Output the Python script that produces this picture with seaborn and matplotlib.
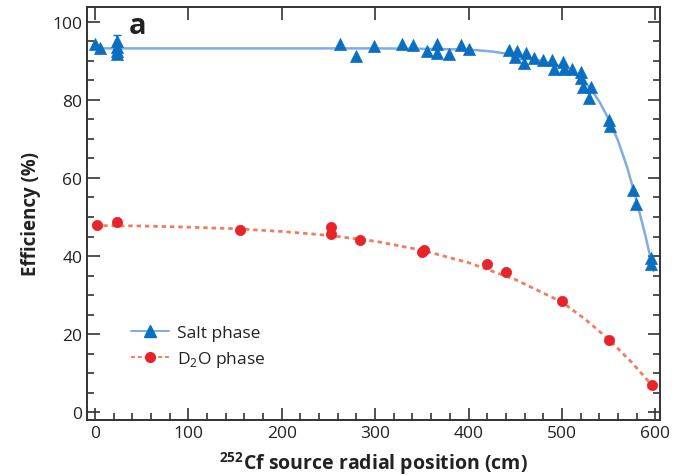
import numpy as np
import pandas as pd
import matplotlib
matplotlib.use("Agg")
import matplotlib.pyplot as plt
import seaborn as sns
from matplotlib.ticker import MultipleLocator
from matplotlib.lines import Line2D

# ---- data ----
salt_x = [0, 5, 24, 24, 24, 24, 262, 279, 299, 329, 341, 355, 366, 366, 379, 392, 401,
          443, 450, 452, 459, 461, 470, 480, 489, 491, 501, 502, 511, 520, 520, 523, 529,
          531, 550, 551, 576, 579, 595, 595]
salt_y = [94.3, 93.3, 95.0, 93.5, 92.5, 91.8, 94.3, 91.3, 93.8, 94.2, 94.0, 92.6, 94.2,
          92.0, 91.8, 94.0, 93.0, 92.8, 90.9, 92.6, 89.4, 92.0, 90.8, 90.2, 90.2, 88.0,
          89.6, 88.0, 87.8, 87.2, 85.6, 83.2, 80.6, 83.2, 74.9, 73.3, 57.0, 53.4, 39.6, 38.0]
salt_err_x = [24]
salt_err_y = [93.8]
salt_err = [2.7]

d2o_x = [2, 24, 155, 253, 253, 284, 350, 352, 420, 440, 500, 550, 596]
d2o_y = [48.0, 48.8, 46.8, 47.4, 45.6, 44.2, 41.0, 41.6, 38.0, 35.9, 28.5, 18.6, 7.0]
d2o_err = [0.3, 0.9, 0.9, 0.7, 0.7, 0.5, 0.4, 0.4, 0.3, 0.3, 0.3, 0.3, 0.3]

# fitted curves
salt_fit_x = [0, 100, 200, 300, 350, 400, 425, 450, 475, 500, 520, 530, 540, 550, 560,
              570, 580, 590, 598]
salt_fit_y = [93.2, 93.2, 93.2, 93.2, 93.1, 92.9, 92.4, 91.5, 90.2, 88.5, 85.6, 83.1,
              79.6, 75.1, 69.6, 62.6, 54.1, 44.6, 36.2]
d2o_fit_x = [0, 50, 100, 150, 200, 250, 300, 350, 400, 450, 500, 525, 550, 575, 596]
d2o_fit_y = [47.8, 47.7, 47.4, 47.0, 46.3, 45.3, 43.8, 41.5, 38.3, 34.0, 28.2, 23.8, 18.7, 12.7, 7.0]

salt_color = "#0A6FC2"
salt_line = "#7FADE0"
d2o_color = "#E8232A"
d2o_line = "#F07D5E"

sns.set_theme(style="ticks")
plt.rcParams["font.family"] = ["Open Sans", "DejaVu Sans"]
plt.rcParams["mathtext.fontset"] = "custom"
plt.rcParams["mathtext.rm"] = "Open Sans"
plt.rcParams["mathtext.bf"] = "Open Sans:bold"

fig = plt.figure(figsize=(6.87, 4.77), dpi=100)
ax = fig.add_axes([87 / 687, 1 - 421 / 477, (660 - 87) / 687, (421 - 8) / 477])

salt_df = pd.DataFrame({"x": salt_x, "y": salt_y})
d2o_df = pd.DataFrame({"x": d2o_x, "y": d2o_y})
sfit = pd.DataFrame({"x": salt_fit_x, "y": salt_fit_y})
dfit = pd.DataFrame({"x": d2o_fit_x, "y": d2o_fit_y})

sns.lineplot(data=sfit, x="x", y="y", ax=ax, color=salt_line, lw=1.8, sort=False)
sns.lineplot(data=dfit, x="x", y="y", ax=ax, color=d2o_line, lw=2.0, sort=False,
             linestyle=(0, (1.6, 1.4)))

ax.errorbar(salt_err_x, salt_err_y, yerr=salt_err, fmt="none", ecolor=salt_color,
            elinewidth=1.2, capsize=3, zorder=3)
ax.errorbar(d2o_x, d2o_y, yerr=d2o_err, fmt="none", ecolor=d2o_color,
            elinewidth=1.2, capsize=2.5, zorder=3)

sns.scatterplot(data=salt_df, x="x", y="y", ax=ax, marker="^", s=75, color=salt_color,
                edgecolor=salt_color, linewidth=0.5, zorder=4)
sns.scatterplot(data=d2o_df, x="x", y="y", ax=ax, marker="o", s=55, color=d2o_color,
                edgecolor=d2o_color, linewidth=0.5, zorder=4)

ax.set_xlim(-8.5, 605)
ax.set_ylim(-2, 103.8)
ax.xaxis.set_major_locator(MultipleLocator(100))
ax.xaxis.set_minor_locator(MultipleLocator(20))
ax.yaxis.set_major_locator(MultipleLocator(20))
ax.yaxis.set_minor_locator(MultipleLocator(5))
ax.tick_params(which="both", direction="in", colors="#333333", labelcolor="#222222",
               width=1.2, labelsize=12.5)
ax.tick_params(which="major", length=9)
ax.tick_params(which="minor", length=5)
ax.tick_params(axis="y", which="both", right=True)
ax.tick_params(axis="x", which="major", top=True)
ax.tick_params(axis="x", which="minor", top=False)
for sp in ax.spines.values():
    sp.set_visible(True)
    sp.set_color("#333333")
    sp.set_linewidth(1.4)

ax.set_xlabel(r"$^{\mathbf{252}}$Cf source radial position (cm)", fontsize=14,
              fontweight="bold", color="#222222", labelpad=6)
ax.set_ylabel("Efficiency (%)", fontsize=13.5, fontweight="bold", color="#222222", labelpad=8)

ax.text(0.072, 0.955, "a", transform=ax.transAxes, fontsize=21, fontweight="bold",
        color="#222222", va="center", ha="left")

handles = [
    Line2D([], [], color=salt_line, lw=1.4, marker="^", markersize=8,
           markerfacecolor=salt_color, markeredgecolor=salt_color),
    Line2D([], [], color=d2o_line, lw=1.4, linestyle=(0, (2, 1.5)), marker="o",
           markersize=7, markerfacecolor=d2o_color, markeredgecolor=d2o_color),
]
ax.legend(handles, ["Salt phase", r"D$_2$O phase"], loc="lower left",
          bbox_to_anchor=(0.05, 0.085), frameon=False, fontsize=12.5, handlelength=2.2,
          handletextpad=0.45, labelspacing=0.45, labelcolor="#222222")

fig.savefig("out.png", dpi=100)
